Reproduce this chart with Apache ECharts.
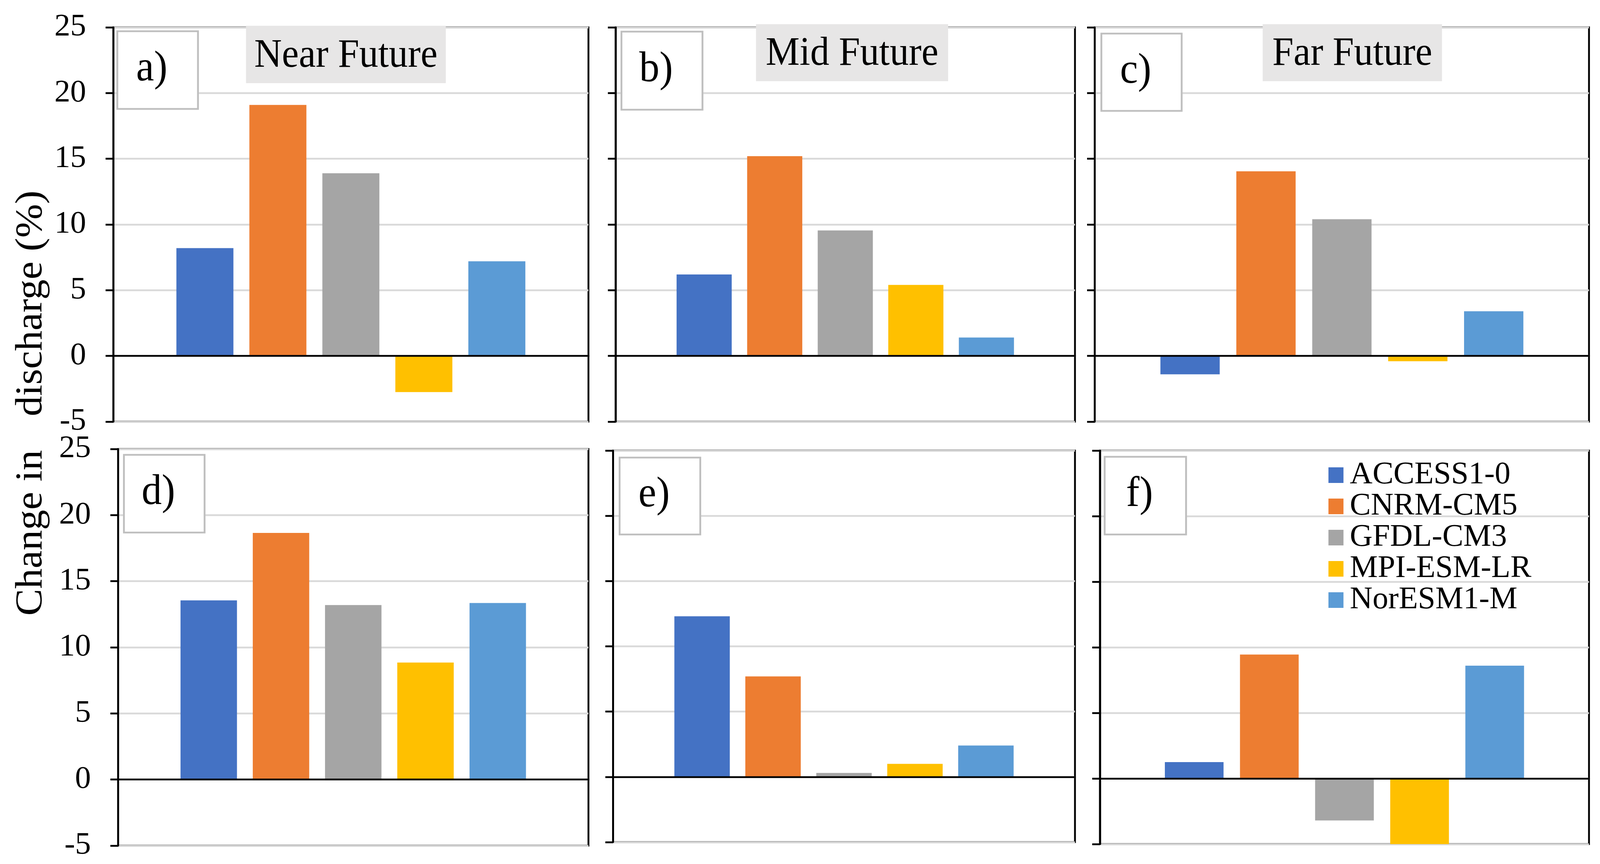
<!DOCTYPE html>
<html>
<head>
<meta charset="utf-8">
<script src="https://cdn.jsdelivr.net/npm/echarts@6/dist/echarts.min.js"></script>
<style>
html,body{margin:0;padding:0;background:#fff;overflow:hidden;}
#chart{width:100vw;height:100vh;}
</style>
</head>
<body>
<div id="chart"></div>
<script>
// ---- data ----
const models = ['ACCESS1-0', 'CNRM-CM5', 'GFDL-CM3', 'MPI-ESM-LR', 'NorESM1-M'];
const modelColors = ['#4472C4', '#ED7D31', '#A5A5A5', '#FFC000', '#5B9BD5'];
const periodTitles = ['Near Future', 'Mid Future', 'Far Future'];
const panelLabels = ['a)', 'b)', 'c)', 'd)', 'e)', 'f)'];
const yMin = -5, yMax = 25, yStep = 5;

const valuesA = [8.2, 19.1, 13.9, -2.75, 7.2];
const valuesB = [6.2, 15.2, 9.55, 5.4, 1.4];
const valuesC = [-1.4, 14.05, 10.4, -0.4, 3.4];
const valuesD = [13.55, 18.65, 13.2, 8.85, 13.35];
const valuesE = [12.3, 7.7, 0.3, 1.0, 2.4];
const valuesF = [1.25, 9.45, -3.2, -5.2, 8.6];
const panelValues = [valuesA, valuesB, valuesC, valuesD, valuesE, valuesF];

// ---- layout (designed for 4364 x 2213, scaled to the real viewport) ----
const el = document.getElementById('chart');
const W = el.clientWidth || 4364, H = el.clientHeight || 2213;
const sx = W / 4364, sy = H / 2213, s = Math.min(sx, sy), sm = (sx + sy) / 2;
const X = v => v * sx, Y = v => v * sy, S = v => v * s, M = v => v * sm;

const FONT = "'Liberation Serif', 'Times New Roman', serif";
const gridsPx = [
  [309, 70, 1296, 1010],
  [1679, 70, 1253, 1010],
  [2986, 70, 1348, 1010],
  [322, 1150, 1283, 1016],
  [1672, 1154, 1260, 1003],
  [3000, 1154, 1334, 1008]
];
const labelBoxes = [
  [320, 80, 220, 199], [1695, 81, 221, 200], [3004, 86, 219, 198],
  [338, 1165, 220, 199], [1690, 1172, 220, 197], [3013, 1170, 222, 199]
];
const titleBoxes = [
  [671, 66, 545, 147], [2062, 62, 524, 146], [3444, 62, 489, 146]
];

const option = {
  backgroundColor: '#fff',
  animation: false,
  grid: gridsPx.map(g => ({
    show: true, borderColor: '#000', borderWidth: S(5), backgroundColor: 'transparent',
    left: X(g[0]), top: Y(g[1]), width: X(g[2]), height: Y(g[3])
  })),
  xAxis: gridsPx.map((g, i) => ({
    gridIndex: i, type: 'category', data: [''],
    axisLine: {show: true, onZero: true, lineStyle: {color: '#000', width: S(5)}},
    axisTick: {show: false}, axisLabel: {show: false}, splitLine: {show: false},
    z: 5
  })),
  yAxis: gridsPx.map((g, i) => ({
    gridIndex: i, type: 'value', min: yMin, max: yMax, interval: yStep,
    axisLine: {show: true, lineStyle: {color: '#000', width: S(5)}},
    axisTick: {show: true, inside: false, length: X(21), lineStyle: {color: '#000', width: S(5)}},
    axisLabel: {show: i % 3 === 0, margin: X(74), fontFamily: FONT, fontSize: M(84), color: '#000'},
    splitLine: {show: true, lineStyle: {color: '#d9d9d9', width: S(5)}}
  })),
  legend: {
    data: models, orient: 'vertical', left: X(3618), top: Y(1172),
    icon: 'rect', itemWidth: X(41), itemHeight: Y(40), itemGap: 0,
    textStyle: {fontFamily: FONT, fontSize: M(83), lineHeight: Y(80), color: '#000', padding: [0, 0, 0, X(12)]}
  },
  series: [],
  graphic: []
};

panelValues.forEach((vals, p) => {
  vals.forEach((v, m) => {
    option.series.push({
      type: 'bar', name: models[m], xAxisIndex: p, yAxisIndex: p,
      data: [v], barWidth: '12%', barGap: '28%', clip: true,
      itemStyle: {color: modelColors[m]}, z: 2
    });
  });
});

// horizontal text: font sized by height, condensed horizontally to the viewport ratio
const hText = (x, y, text, size) => ({
  type: 'text', z: 101, x: X(x), y: Y(y), scaleX: sx / sy,
  style: {text: text, font: Y(size) + 'px ' + FONT, fill: '#000', textAlign: 'center', textVerticalAlign: 'middle'}
});

labelBoxes.forEach((b, i) => {
  option.graphic.push({
    type: 'rect', z: 100,
    shape: {x: X(b[0]), y: Y(b[1]), width: X(b[2]), height: Y(b[3])},
    style: {fill: '#fff', stroke: '#bfbfbf', lineWidth: S(5)}
  });
  option.graphic.push(hText(b[0] + b[2] / 2 - 16, b[1] + b[3] / 2 - 2, panelLabels[i], 110));
});

titleBoxes.forEach((b, i) => {
  option.graphic.push({
    type: 'rect', z: 100,
    shape: {x: X(b[0]), y: Y(b[1]), width: X(b[2]), height: Y(b[3])},
    style: {fill: '#e7e6e6', stroke: null}
  });
  option.graphic.push(hText(b[0] + b[2] / 2, b[1] + b[3] / 2 + 4, periodTitles[i], 104));
});

// y-axis name (split across the two rows as in the original), read bottom-to-top
const vText = (x, y, text, size) => ({
  type: 'text', z: 101, x: X(x), y: Y(y), rotation: Math.PI / 2, scaleY: sx / sy,
  style: {text: text, font: Y(size) + 'px ' + FONT, fill: '#000', textAlign: 'center', textVerticalAlign: 'middle'}
});
option.graphic.push(vText(86, 777, 'discharge (%)', 104));
option.graphic.push(vText(86, 1365, 'Change in', 104));

const chart = echarts.init(el);
chart.setOption(option);
</script>
</body>
</html>
